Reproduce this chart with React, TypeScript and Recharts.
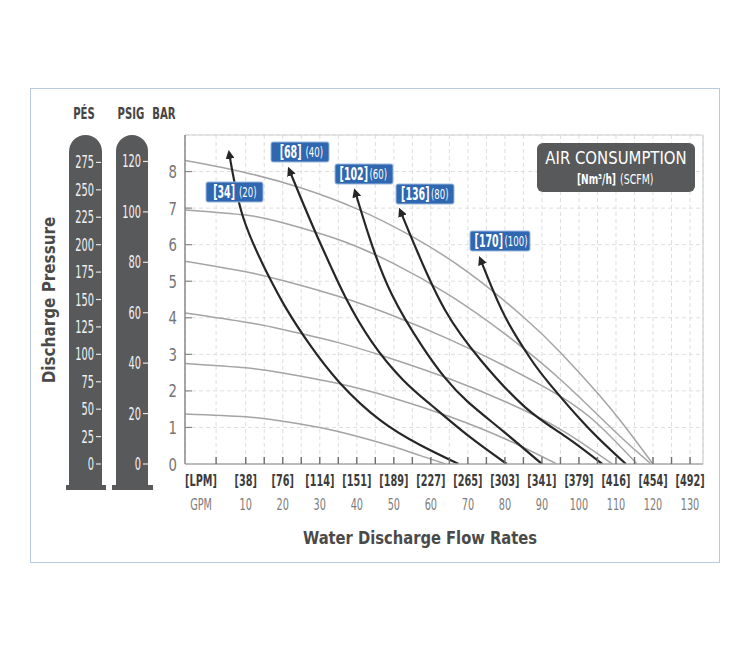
import React from "react";
import { LineChart, Line, XAxis, YAxis, CartesianGrid, ReferenceLine } from "recharts";

const FONT = '"DejaVu Sans Condensed", "Liberation Sans Narrow", "Roboto Condensed", "DejaVu Sans", sans-serif';

type Pt = { gpm: number; bar: number };

// x axis: GPM ticks (every 5) and the labelled ones with their LPM equivalent
const gpmTicks = [2, 10, 15, 20, 25, 30, 35, 40, 45, 50, 55, 60, 65, 70, 75, 80, 85, 90, 95, 100, 105, 110, 115, 120, 125, 130];
const gpmLabels = [10, 20, 30, 40, 50, 60, 70, 80, 90, 100, 110, 120, 130];
const lpmLabels = [38, 76, 114, 151, 189, 227, 265, 303, 341, 379, 416, 454, 492];

// pressure scales
const barTicks = [0, 1, 2, 3, 4, 5, 6, 7, 8];
const psigTicks = [0, 20, 40, 60, 80, 100, 120];
const pesTicks = [0, 25, 50, 75, 100, 125, 150, 175, 200, 225, 250, 275];

// grey performance curves (air inlet pressure)
const curve120: Pt[] = [
  { gpm: -6.4, bar: 8.3 }, { gpm: 10, bar: 7.97 }, { gpm: 25, bar: 7.55 }, { gpm: 40, bar: 6.98 },
  { gpm: 55, bar: 6.22 }, { gpm: 70, bar: 5.25 }, { gpm: 85, bar: 4.02 }, { gpm: 95, bar: 3.05 },
  { gpm: 105, bar: 1.94 }, { gpm: 112, bar: 1.08 }, { gpm: 120, bar: 0 },
];
const curve100: Pt[] = [
  { gpm: -6.4, bar: 6.95 }, { gpm: 10, bar: 6.81 }, { gpm: 20, bar: 6.6 }, { gpm: 35, bar: 6.14 },
  { gpm: 50, bar: 5.48 }, { gpm: 65, bar: 4.62 }, { gpm: 80, bar: 3.56 }, { gpm: 95, bar: 2.31 },
  { gpm: 110, bar: 0.86 }, { gpm: 119.5, bar: 0 },
];
const curve80: Pt[] = [
  { gpm: -6.4, bar: 5.55 }, { gpm: 10, bar: 5.26 }, { gpm: 20, bar: 5.02 }, { gpm: 35, bar: 4.59 },
  { gpm: 50, bar: 4.05 }, { gpm: 65, bar: 3.41 }, { gpm: 80, bar: 2.68 }, { gpm: 95, bar: 1.85 },
  { gpm: 105, bar: 1.1 }, { gpm: 115.7, bar: 0 },
];
const curve60: Pt[] = [
  { gpm: -6.4, bar: 4.13 }, { gpm: 10, bar: 3.88 }, { gpm: 20, bar: 3.68 }, { gpm: 35, bar: 3.32 },
  { gpm: 50, bar: 2.86 }, { gpm: 65, bar: 2.33 }, { gpm: 80, bar: 1.71 }, { gpm: 95, bar: 0.95 },
  { gpm: 109, bar: 0 },
];
const curve40: Pt[] = [
  { gpm: -6.4, bar: 2.75 }, { gpm: 10, bar: 2.63 }, { gpm: 20, bar: 2.49 }, { gpm: 35, bar: 2.2 },
  { gpm: 50, bar: 1.8 }, { gpm: 65, bar: 1.3 }, { gpm: 80, bar: 0.69 }, { gpm: 94, bar: 0 },
];
const curve20: Pt[] = [
  { gpm: -6.4, bar: 1.37 }, { gpm: 10, bar: 1.29 }, { gpm: 20, bar: 1.17 }, { gpm: 30, bar: 1.0 },
  { gpm: 40, bar: 0.76 }, { gpm: 50, bar: 0.47 }, { gpm: 57, bar: 0.235 }, { gpm: 64, bar: 0 },
];

// black air consumption curves, from arrow tip down to the flow axis
const air20: Pt[] = [
  { gpm: 5.5, bar: 8.52 }, { gpm: 9.3, bar: 6.75 }, { gpm: 15.8, bar: 5.22 }, { gpm: 21.2, bar: 4.21 },
  { gpm: 27.4, bar: 3.25 }, { gpm: 35.5, bar: 2.21 }, { gpm: 46.3, bar: 1.2 }, { gpm: 57.1, bar: 0.52 },
  { gpm: 67.5, bar: 0 },
];
const air40: Pt[] = [
  { gpm: 21.7, bar: 8.06 }, { gpm: 25, bar: 7.25 }, { gpm: 29, bar: 6.3 }, { gpm: 33, bar: 5.4 },
  { gpm: 37, bar: 4.55 }, { gpm: 44, bar: 3.35 }, { gpm: 52.5, bar: 2.3 }, { gpm: 60, bar: 1.62 },
  { gpm: 70, bar: 0.78 }, { gpm: 80.5, bar: 0 },
];
const air60: Pt[] = [
  { gpm: 39.5, bar: 7.47 }, { gpm: 43.4, bar: 6.2 }, { gpm: 49.4, bar: 4.65 }, { gpm: 57.8, bar: 3.2 },
  { gpm: 63.9, bar: 2.35 }, { gpm: 70, bar: 1.7 }, { gpm: 79.5, bar: 0.9 }, { gpm: 90, bar: 0 },
];
const air80: Pt[] = [
  { gpm: 51.7, bar: 6.94 }, { gpm: 56.6, bar: 5.75 }, { gpm: 63.9, bar: 4.2 }, { gpm: 73.5, bar: 2.84 },
  { gpm: 85.5, bar: 1.55 }, { gpm: 96.4, bar: 0.75 }, { gpm: 106.3, bar: 0 },
];
const air100: Pt[] = [
  { gpm: 73.3, bar: 5.62 }, { gpm: 77, bar: 4.7 }, { gpm: 81, bar: 3.85 }, { gpm: 86.8, bar: 2.9 },
  { gpm: 92, bar: 2.2 }, { gpm: 102.4, bar: 1.0 }, { gpm: 112.7, bar: 0 },
];

const pressureCurves = [curve120, curve100, curve80, curve60, curve40, curve20];
const airCurves = [air20, air40, air60, air80, air100];
const airNm3 = [34, 68, 102, 136, 170];
const airScfm = [20, 40, 60, 80, 100];

// label box layout: box position/width and where the bold part ends
const labelBoxes = [
  { x: 206, y: 182, w: 57, split: 235, gap: 4 },
  { x: 271, y: 142, w: 58, split: 301.5, gap: 4 },
  { x: 335, y: 164, w: 58, split: 368, gap: 1.5 },
  { x: 396, y: 184, w: 58, split: 429.5, gap: 1.5 },
  { x: 470, y: 231, w: 60, split: 503, gap: 1.5 },
];

// text squeezed horizontally to mimic the condensed face of the original
const T = (p: {
  x: number; y: number; s?: number; size: number; weight?: number; fill: string;
  anchor?: "start" | "middle" | "end"; rotate?: number; children: React.ReactNode;
}) => (
  <text
    transform={`translate(${p.x},${p.y})${p.rotate ? ` rotate(${p.rotate})` : ""} scale(${p.s ?? 1},1)`}
    textAnchor={p.anchor ?? "middle"}
    fontFamily={FONT}
    fontSize={p.size}
    fontWeight={p.weight ?? 400}
    fill={p.fill}
  >
    {p.children}
  </text>
);

const XTick = (props: any) => {
  const { x, y, payload } = props;
  const i = gpmLabels.indexOf(payload.value);
  return (
    <g>
      <line x1={x} x2={x} y1={y} y2={y - 7} stroke="#6e6e6e" strokeWidth={1.4} />
      {i >= 0 && (
        <>
          <T x={x} y={y + 22} s={0.72} size={15} weight={700} fill="#3c3c3c">[{lpmLabels[i]}]</T>
          <T x={x} y={y + 46} s={0.72} size={15} fill="#7c7c7c">{payload.value}</T>
        </>
      )}
    </g>
  );
};

const BarTick = (props: any) => {
  const { x, y, payload } = props;
  return (
    <g>
      {payload.value > 0 && <line x1={x} x2={x + 7} y1={y} y2={y} stroke="#888" strokeWidth={1.2} />}
      <T x={x - 8} y={y + 6.5} s={0.82} size={18} fill="#747474" anchor="end">{payload.value}</T>
    </g>
  );
};

const ScaleTick = (props: any) => {
  const { x, y, payload } = props;
  return (
    <g>
      <line x1={x - 5} x2={x} y1={y} y2={y} stroke="#e6e6e6" strokeWidth={1.2} />
      <T x={x - 7} y={y + 6} s={0.64} size={17} fill="#f2f2f2" anchor="end">{payload.value}</T>
    </g>
  );
};

export default function App() {
  return (
    <div style={{ position: "absolute", left: 0, top: 0, width: 750, height: 650, background: "#fff" }}>
      <svg width={0} height={0} style={{ position: "absolute" }}>
        <defs>
          <marker
            id="arrowhead"
            viewBox="0 0 10 10"
            refX={7}
            refY={5}
            markerWidth={9}
            markerHeight={9}
            markerUnits="userSpaceOnUse"
            orient="auto-start-reverse"
          >
            <path d="M0,0 L10,5 L0,10 z" fill="#262626" />
          </marker>
        </defs>
      </svg>

      <div style={{ position: "absolute", left: 30, top: 88, width: 688, height: 473, border: "1px solid #b9c9e0" }} />

      {/* dark scale columns */}
      <div style={{ position: "absolute", left: 69, top: 135, width: 33, height: 351, background: "#58595b", borderRadius: "16.5px 16.5px 0 0" }} />
      <div style={{ position: "absolute", left: 66, top: 485, width: 40, height: 5, background: "#58595b" }} />
      <div style={{ position: "absolute", left: 116, top: 135, width: 32, height: 351, background: "#58595b", borderRadius: "16px 16px 0 0" }} />
      <div style={{ position: "absolute", left: 112, top: 485, width: 41, height: 5, background: "#58595b" }} />

      <div style={{ position: "absolute", left: 0, top: 0 }}>
        <LineChart width={750} height={650} margin={{ top: 135, right: 47, bottom: 136, left: 60 }}>
          <CartesianGrid yAxisId="y1" strokeDasharray="4 3" stroke="#dedede" />
          <XAxis
            dataKey="gpm"
            type="number"
            domain={[-6.4, 133.5]}
            allowDataOverflow
            ticks={gpmTicks}
            interval={0}
            tick={<XTick />}
            tickLine={false}
            tickSize={0}
            tickMargin={0}
            height={50}
            axisLine={{ stroke: "#a8a8a8", strokeWidth: 1.5 }}
          />
          <YAxis
            yAxisId="y1"
            type="number"
            domain={[0, 9]}
            allowDataOverflow
            ticks={barTicks}
            interval={0}
            tick={<BarTick />}
            tickLine={false}
            tickSize={0}
            tickMargin={0}
            width={37}
            axisLine={{ stroke: "#8a8a8a", strokeWidth: 1.5 }}
          />
          <YAxis
            yAxisId="y2"
            type="number"
            domain={[0, 130.5]}
            allowDataOverflow
            ticks={psigTicks}
            interval={0}
            tick={<ScaleTick />}
            tickLine={false}
            tickSize={0}
            tickMargin={0}
            width={47}
            axisLine={false}
          />
          <YAxis
            yAxisId="y3"
            type="number"
            domain={[0, 300]}
            allowDataOverflow
            ticks={pesTicks}
            interval={0}
            tick={<ScaleTick />}
            tickLine={false}
            tickSize={0}
            tickMargin={0}
            width={41}
            axisLine={false}
          />
          <ReferenceLine yAxisId="y1" y={9} stroke="#d0d0d0" strokeWidth={1.2} />
          <ReferenceLine yAxisId="y1" x={133.5} stroke="#d0d0d0" strokeWidth={1.2} />
          {pressureCurves.map((d, i) => (
            <Line
              key={`p${i}`}
              yAxisId="y1"
              data={d}
              dataKey="bar"
              type="natural"
              stroke="#a4a4a4"
              strokeWidth={1.5}
              dot={false}
              isAnimationActive={false}
            />
          ))}
          {airCurves.map((d, i) => (
            <Line
              key={`a${i}`}
              yAxisId="y1"
              data={d}
              dataKey="bar"
              type="natural"
              stroke="#262626"
              strokeWidth={2.2}
              dot={false}
              markerStart="url(#arrowhead)"
              isAnimationActive={false}
            />
          ))}
        </LineChart>
      </div>

      <svg width={750} height={650} style={{ position: "absolute", left: 0, top: 0, pointerEvents: "none" }}>
        <T x={84} y={118.5} s={0.75} size={15} weight={700} fill="#454545">PÉS</T>
        <T x={131} y={118.5} s={0.75} size={15} weight={700} fill="#454545">PSIG</T>
        <T x={164} y={118.5} s={0.75} size={15} weight={700} fill="#454545">BAR</T>

        <T x={55} y={300} rotate={-90} s={0.94} size={18} weight={700} fill="#4a4a4a">Discharge Pressure</T>
        <T x={420} y={543.5} s={0.91} size={18} weight={700} fill="#4a4a4a">Water Discharge Flow Rates</T>

        <T x={201} y={486} s={0.72} size={15} weight={700} fill="#3c3c3c">[LPM]</T>
        <T x={201} y={510} s={0.72} size={15} fill="#7c7c7c">GPM</T>

        <rect x={537} y={143} width={158} height={49} rx={6} fill="#58595b" />
        <T x={616} y={164} s={0.92} size={18} fill="#ffffff">AIR CONSUMPTION</T>
        <T x={616} y={183.5} s={0.72} size={14} weight={700} fill="#ffffff" anchor="end">[Nm³/h]</T>
        <T x={620} y={183.5} s={0.75} size={14} fill="#ffffff" anchor="start">(SCFM)</T>

        {labelBoxes.map((b, i) => (
          <g key={i}>
            <rect x={b.x} y={b.y} width={b.w} height={20} rx={2} fill="#2f67b0" stroke="#9bb8dc" strokeWidth={1} />
            <T x={b.split} y={b.y + 15.5} s={0.62} size={17} weight={700} fill="#ffffff" anchor="end">
              [{airNm3[i]}]
            </T>
            <T x={b.split + b.gap} y={b.y + 15} s={0.68} size={14} fill="#ffffff" anchor="start">
              ({airScfm[i]})
            </T>
          </g>
        ))}
      </svg>
    </div>
  );
}
